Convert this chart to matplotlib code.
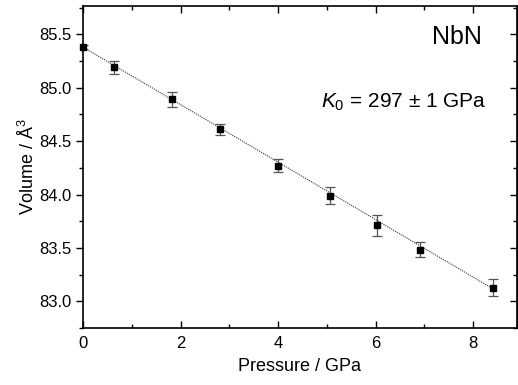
import matplotlib
matplotlib.use("Agg")
import matplotlib.pyplot as plt
from matplotlib.ticker import MultipleLocator

plt.rcParams['font.family'] = ['Liberation Sans', 'DejaVu Sans']
plt.rcParams['mathtext.fontset'] = 'custom'
plt.rcParams['mathtext.rm'] = 'Liberation Sans'
plt.rcParams['mathtext.it'] = 'Liberation Sans:italic'

pressure = [0.0, 0.63, 1.82, 2.81, 4.00, 5.06, 6.02, 6.92, 8.41]
volume = [85.38, 85.19, 84.89, 84.61, 84.27, 83.99, 83.71, 83.485, 83.125]
err = [0.02, 0.06, 0.07, 0.05, 0.06, 0.08, 0.10, 0.07, 0.08]
fit_p = [0.0, 8.47]
fit_v = [85.38, 83.10]

fig = plt.figure(figsize=(5.18, 3.85), dpi=100)
ax = fig.add_axes([83/518, 1-328/385, (517-83)/518, (328-6)/385])

ax.plot(fit_p, fit_v, ls=(0, (1, 1)), color='#333333', lw=0.8, zorder=1)
ax.errorbar(pressure, volume, yerr=err, fmt='none', ecolor='#555555', elinewidth=0.9,
            capsize=3.5, capthick=0.9, zorder=2)
ax.plot(pressure, volume, 's', color='black', ms=4.2, zorder=3, clip_on=False)

ax.set_xlim(0, 8.9)
ax.set_ylim(82.75, 85.765)
ax.xaxis.set_major_locator(MultipleLocator(2))
ax.xaxis.set_minor_locator(MultipleLocator(1))
ax.yaxis.set_major_locator(MultipleLocator(0.5))
ax.yaxis.set_minor_locator(MultipleLocator(0.25))

ax.tick_params(axis='x', which='both', direction='in', top=True, bottom=True,
               labelsize=12, pad=6)
ax.tick_params(axis='y', which='both', direction='out', left=True, right=False,
               labelsize=12)
ax.tick_params(which='major', length=5, width=1.0)
ax.tick_params(which='minor', length=3, width=1.0)
sec = ax.secondary_yaxis('right')
sec.yaxis.set_major_locator(MultipleLocator(0.5))
sec.yaxis.set_minor_locator(MultipleLocator(0.25))
sec.tick_params(which='both', direction='in', labelright=False)
sec.tick_params(which='major', length=5, width=1.0)
sec.tick_params(which='minor', length=3, width=1.0)

for s in ax.spines.values():
    s.set_linewidth(1.2)

ax.set_xlabel('Pressure / GPa', fontsize=13, labelpad=5)
ax.set_ylabel('Volume / Å$^3$', fontsize=13, labelpad=1)

ax.text(0.92, 0.905, 'NbN', transform=ax.transAxes, ha='right', va='center', fontsize=18)
ax.text(0.93, 0.70, '$K_0$ = 297 ± 1 GPa', transform=ax.transAxes, ha='right',
        va='center', fontsize=15)

fig.savefig('out.png', dpi=100)
